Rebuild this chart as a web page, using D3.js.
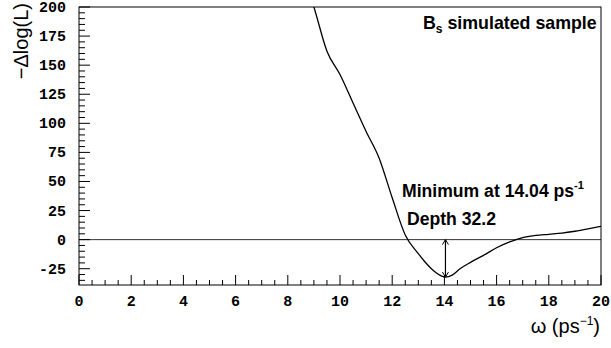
<!DOCTYPE html>
<html>
<head>
<meta charset="utf-8">
<script src="https://cdn.jsdelivr.net/npm/d3@7"></script>
<style>
  html, body { margin: 0; padding: 0; background: #fff; }
  svg { display: block; }
</style>
</head>
<body>
<svg id="chart" width="611" height="348"></svg>
<script>
// Likelihood scan: omega (ps^-1) vs -Δlog(L)
const omega = [8.9, 9.0, 9.5, 10.0, 10.5, 11.0, 11.5, 12.0, 12.5, 13.0, 13.25, 13.5, 13.75, 14.04, 14.3, 14.6, 15.0, 15.5, 16.0, 16.5, 17.0, 17.5, 18.0, 18.5, 19.0, 19.5, 20.0];
const deltaLogL = [207, 200, 162, 142, 117.5, 93, 70, 36, 4, -12, -19, -25, -29.5, -32.2, -30.5, -25, -19.5, -13.5, -7, -2, 1.8, 3.6, 4.6, 5.6, 7.2, 9.2, 11.4];

const minOmega = 14.04;
const depth = 32.2;

const xTicks = [0, 2, 4, 6, 8, 10, 12, 14, 16, 18, 20];
const yTicks = [-25, 0, 25, 50, 75, 100, 125, 150, 175, 200];

const svg = d3.select("#chart");
const plotLeft = 79, plotRight = 601, plotTop = 7, plotBottom = 285;

const x = d3.scaleLinear().domain([0, 20]).range([plotLeft, plotRight]);
const y = d3.scaleLinear().domain([-39, 200]).range([plotBottom, plotTop]);

svg.append("defs").append("clipPath").attr("id", "plotArea")
  .append("rect").attr("x", plotLeft).attr("y", plotTop)
  .attr("width", plotRight - plotLeft).attr("height", plotBottom - plotTop);

// zero line
svg.append("line")
  .attr("x1", x(0)).attr("x2", x(20))
  .attr("y1", y(0)).attr("y2", y(0))
  .attr("stroke", "#333").attr("stroke-width", 1);

// scan curve
const line = d3.line()
  .x((d, i) => x(omega[i]))
  .y(d => y(d))
  .curve(d3.curveMonotoneX);

svg.append("path")
  .datum(deltaLogL)
  .attr("clip-path", "url(#plotArea)")
  .attr("d", line)
  .attr("fill", "none")
  .attr("stroke", "#000")
  .attr("stroke-width", 1.3);

// frame
svg.append("rect")
  .attr("x", plotLeft).attr("y", plotTop)
  .attr("width", plotRight - plotLeft).attr("height", plotBottom - plotTop)
  .attr("fill", "none").attr("stroke", "#000").attr("stroke-width", 1);

// x axis ticks (inward, upward)
const xMinor = d3.range(0, 20.001, 0.5);
svg.append("g").selectAll("line").data(xMinor).join("line")
  .attr("x1", d => x(d)).attr("x2", d => x(d))
  .attr("y1", plotBottom).attr("y2", d => plotBottom - (Math.abs(d % 2) < 1e-6 ? 10 : 5))
  .attr("stroke", "#000").attr("stroke-width", 1);

svg.append("g").selectAll("text").data(xTicks).join("text")
  .attr("x", d => x(d)).attr("y", 306)
  .attr("text-anchor", "middle")
  .attr("font-family", "'Liberation Mono', 'Courier New', monospace")
  .attr("font-weight", "bold").attr("font-size", 15)
  .text(d => d);

// y axis ticks (inward, rightward)
const yMinor = d3.range(-35, 200.001, 5);
svg.append("g").selectAll("line").data(yMinor).join("line")
  .attr("y1", d => y(d)).attr("y2", d => y(d))
  .attr("x1", plotLeft).attr("x2", d => plotLeft + (Math.abs(d % 25) < 1e-6 ? 11 : 6))
  .attr("stroke", "#000").attr("stroke-width", 1);

svg.append("g").selectAll("text").data(yTicks).join("text")
  .attr("x", 66).attr("y", d => y(d) + 5)
  .attr("text-anchor", "end")
  .attr("font-family", "'Liberation Mono', 'Courier New', monospace")
  .attr("font-weight", "bold").attr("font-size", 15)
  .text(d => d);

// axis titles
svg.append("text")
  .attr("transform", "translate(28,3) rotate(-90)")
  .attr("text-anchor", "end")
  .attr("font-family", "'Liberation Sans', Arial, sans-serif")
  .attr("font-size", 20)
  .text("\u2212\u0394log(L)");

const xTitle = svg.append("text")
  .attr("x", 600).attr("y", 333)
  .attr("text-anchor", "end")
  .attr("font-family", "'Liberation Sans', Arial, sans-serif")
  .attr("font-size", 20);
xTitle.append("tspan").text("\u03C9 (ps");
xTitle.append("tspan").attr("font-size", 12).attr("dy", -8).text("\u22121");
xTitle.append("tspan").attr("dy", 8).text(")");

// double arrow marking the depth
const ax = x(minOmega), ay0 = y(0), ay1 = y(-depth);
svg.append("line")
  .attr("x1", ax).attr("x2", ax).attr("y1", ay0).attr("y2", ay1)
  .attr("stroke", "#000").attr("stroke-width", 1.2);
svg.append("path")
  .attr("d", `M${ax - 3},${ay0 + 5}L${ax},${ay0}L${ax + 3},${ay0 + 5}M${ax - 3},${ay1 - 5}L${ax},${ay1}L${ax + 3},${ay1 - 5}`)
  .attr("fill", "none").attr("stroke", "#000").attr("stroke-width", 1);

// labels
const boldSans = "'Liberation Sans', Arial, sans-serif";
const title = svg.append("text")
  .attr("x", 423).attr("y", 29)
  .attr("font-family", boldSans).attr("font-weight", "bold").attr("font-size", 17.8);
title.append("tspan").text("B");
title.append("tspan").attr("font-size", 12).attr("dy", 4).text("s");
title.append("tspan").attr("dy", -4).text(" simulated sample");

const minLabel = svg.append("text")
  .attr("x", 402).attr("y", 197)
  .attr("font-family", boldSans).attr("font-weight", "bold").attr("font-size", 17.6);
minLabel.append("tspan").text(`Minimum at ${minOmega.toFixed(2)} ps`);
minLabel.append("tspan").attr("font-size", 11).attr("dy", -8).text("-1");

svg.append("text")
  .attr("x", 407).attr("y", 225)
  .attr("font-family", boldSans).attr("font-weight", "bold").attr("font-size", 17.6)
  .text(`Depth ${depth}`);
</script>
</body>
</html>
